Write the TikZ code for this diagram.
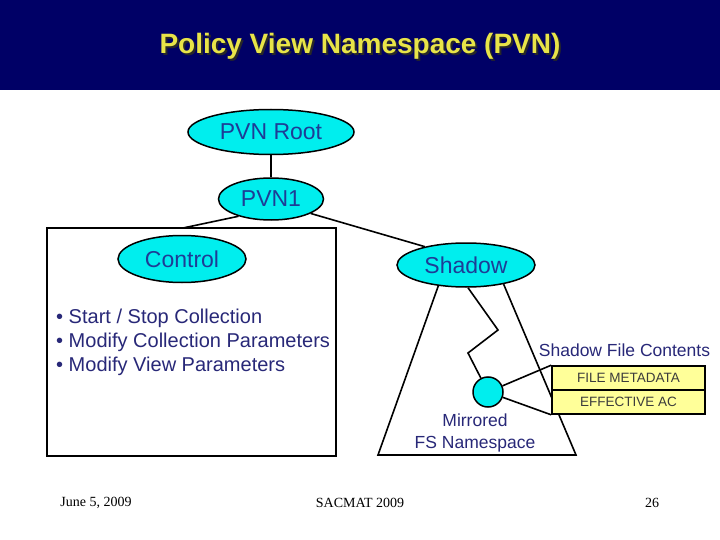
\documentclass[tikz,border=0pt]{standalone}
\usepackage{fontspec}
\setmainfont{Liberation Sans}
\newfontfamily\footfont{Liberation Serif}
\usetikzlibrary{shapes.geometric}
\definecolor{banner}{RGB}{0,0,102}
\definecolor{titleyellow}{RGB}{232,228,72}
\definecolor{titleshade}{RGB}{40,40,40}
\definecolor{cyanfill}{RGB}{0,238,238}
\definecolor{lblblue}{RGB}{30,60,150}
\definecolor{navytext}{RGB}{40,40,120}
\definecolor{paleyellow}{RGB}{255,255,153}
\definecolor{graytext}{RGB}{60,60,60}
\tikzset{
  bubble/.style={ellipse, draw=black, line width=1.5pt, fill=cyanfill, text=lblblue,
    font=\fontsize{23}{27}\selectfont, inner sep=0pt},
  treeline/.style={line width=1.6pt},
  yelbox/.style={rectangle, draw=black, line width=1.6pt, fill=paleyellow,
    minimum width=153pt, minimum height=24pt, inner sep=0pt,
    font=\fontsize{13.5}{16}\selectfont, text=graytext},
  navylbl/.style={text=navytext, font=\fontsize{17.5}{22}\selectfont, inner sep=0pt, align=center},
  foot/.style={font=\footfont\fontsize{14}{16}\selectfont, inner sep=0pt},
  titletext/.style={font=\bfseries\fontsize{28}{32}\selectfont, inner sep=0pt}
}
\begin{document}
\begin{tikzpicture}[x=1pt,y=-1pt]
\useasboundingbox (0,0) rectangle (720,540);
\fill[white] (0,0) rectangle (720,540);
\fill[banner] (0,0) rectangle (720,90);
\node[titletext, text=titleshade] (titleshadow) at (362,48) {Policy View Namespace (PVN)};
\node[titletext, text=titleyellow] (title) at (360,46) {Policy View Namespace (PVN)};

% control box
\node[draw=black, line width=2.6pt, minimum width=289pt, minimum height=228pt, inner sep=0pt] (cbox) at (191.5,342) {};
\coordinate (cbtop) at (183,228);

% tree
\node[bubble, minimum width=166pt, minimum height=45pt] (root) at (271,132) {PVN Root};
\node[bubble, minimum width=105pt, minimum height=42pt] (pvn1) at (271,199) {PVN1};
\node[bubble, minimum width=128pt, minimum height=47pt] (control) at (182,259) {Control};
\node[bubble, minimum width=138pt, minimum height=44pt] (shadow) at (466,265) {Shadow};

\draw[treeline] (root) -- (pvn1);
\draw[treeline] (pvn1.208) -- (cbtop);
\draw[treeline] (pvn1.340) -- (shadow.156);

% bullets
\node[anchor=west, text=navytext, font=\fontsize{20}{24}\selectfont, inner sep=0pt, align=left] (bullets) at (56,342)
  {• Start / Stop Collection\\• Modify Collection Parameters\\• Modify View Parameters};

% triangle
\coordinate (tl) at (378,455);
\coordinate (tr) at (576,455);
\draw[treeline] (shadow.217) -- (tl) -- (tr) -- (shadow.333);

% zigzag to mirrored node
\node[circle, draw=black, line width=1.5pt, fill=cyanfill, minimum size=30pt, inner sep=0pt] (circ) at (488,392) {};
\coordinate (z1) at (498,330);
\coordinate (z2) at (468,353);
\draw[treeline] (shadow.275) -- (z1) -- (z2) -- (circ);

% shadow file contents
\node[yelbox] (meta) at (628.5,378) {FILE METADATA};
\node[yelbox] (eff) at (628.5,402) {EFFECTIVE AC};
\draw[treeline] (circ) -- (meta.north west);
\draw[treeline] (circ) -- (eff.south west);
\node[navylbl] (sfc) at (624.5,350) {Shadow File Contents};
\node[navylbl] (mirr) at (475,433) {Mirrored\\FS Namespace};

% footer
\node[foot] (date) at (96,503) {June 5, 2009};
\node[foot] (conf) at (360,503) {SACMAT 2009};
\node[foot] (page) at (652,503) {26};
\end{tikzpicture}
\end{document}
